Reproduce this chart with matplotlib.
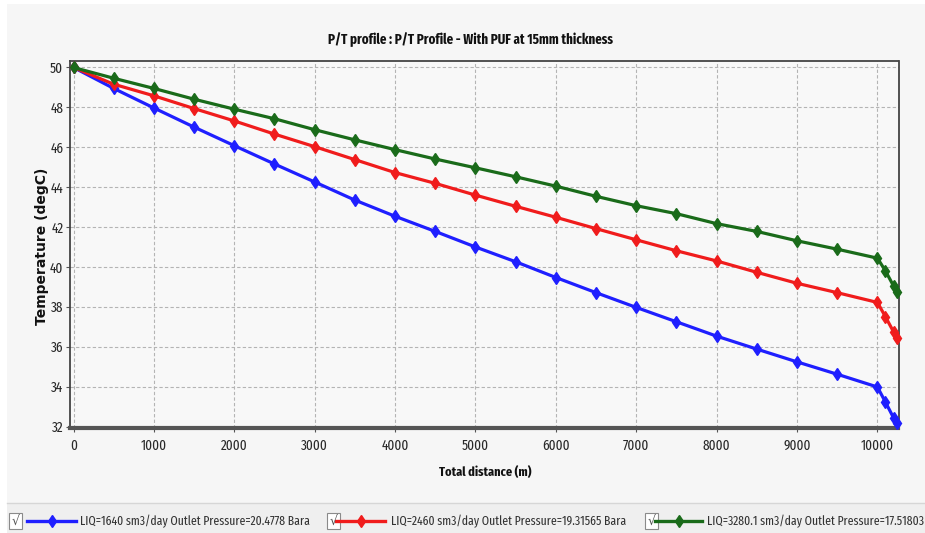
import matplotlib
matplotlib.use("Agg")
import matplotlib.pyplot as plt
from matplotlib import font_manager
from matplotlib.lines import Line2D
from matplotlib.patches import Rectangle

# ---- data ----
distance = [0, 500, 1000, 1500, 2000, 2500, 3000, 3500, 4000, 4500, 5000,
            5500, 6000, 6500, 7000, 7500, 8000, 8500, 9000, 9500, 10000,
            10100, 10200, 10240]
temp_liq1640 = [50.0, 48.95, 47.97, 47.01, 46.08, 45.16, 44.26, 43.35, 42.54, 41.78, 41.0,
                40.26, 39.47, 38.71, 37.97, 37.25, 36.53, 35.88, 35.24, 34.62, 33.98,
                33.22, 32.44, 32.17]
temp_liq2460 = [50.0, 49.16, 48.58, 47.94, 47.32, 46.66, 46.03, 45.38, 44.73, 44.19, 43.6,
                43.04, 42.49, 41.92, 41.36, 40.81, 40.30, 39.73, 39.18, 38.71, 38.22,
                37.50, 36.75, 36.46]
temp_liq3280 = [50.0, 49.46, 48.95, 48.41, 47.91, 47.43, 46.88, 46.37, 45.88, 45.41, 44.97,
                44.52, 44.05, 43.54, 43.07, 42.67, 42.17, 41.78, 41.31, 40.89, 40.44,
                39.80, 39.05, 38.76]
series_labels = ["LIQ=1640 sm3/day Outlet Pressure=20.4778 Bara",
                 "LIQ=2460 sm3/day Outlet Pressure=19.31565 Bara",
                 "LIQ=3280.1 sm3/day Outlet Pressure=17.51803 Bara"]
series_colors = ["#1f1fff", "#f01c1c", "#1a6b1a"]
x_ticks = [0, 1000, 2000, 3000, 4000, 5000, 6000, 7000, 8000, 9000, 10000]
y_ticks = [32, 34, 36, 38, 40, 42, 44, 46, 48, 50]
title = "P/T profile : P/T Profile - With PUF at 15mm thickness"
xlabel = "Total distance (m)"
ylabel = "Temperature (degC)"

# ---- font choice: a narrow humanist face, like the squeezed screenshot ----
names = {f.name for f in font_manager.fontManager.ttflist}
NARROW = "DejaVu Sans"
for cand in ["Fira Sans Extra Condensed", "Open Sans Condensed", "Noto Sans ExtraCondensed",
             "Barlow Condensed", "Asap Condensed", "Archivo Narrow"]:
    if cand in names:
        NARROW = cand
        break
plt.rcParams['font.family'] = [NARROW, 'DejaVu Sans']

W, H = 925, 533
fig = plt.figure(figsize=(W / 100, H / 100), dpi=100)
fig.patch.set_facecolor("white")
renderer = fig.canvas.get_renderer()


def fit_size(s, target_px, weight="normal", family=None):
    t = fig.text(0, 0, s, fontsize=10, fontweight=weight,
                 family=family if family else [NARROW, 'DejaVu Sans'])
    w = t.get_window_extent(renderer).width
    t.remove()
    return 10 * target_px / w


tick_size = fit_size("10000", 33)
legend_size = fit_size(series_labels[0], 229)
title_size = fit_size(title, 285, "bold")
xlabel_size = fit_size(xlabel, 92, "bold")

# window panel
fig.patches.append(Rectangle((7 / W, 0), 1 - 7 / W, 1 - 4 / H, transform=fig.transFigure,
                             facecolor="#f6f6f6", edgecolor="none", zorder=-10))
# legend strip
fig.patches.append(Rectangle((7 / W, 0), 1 - 7 / W, (H - 503) / H, transform=fig.transFigure,
                             facecolor="#efefef", edgecolor="none", zorder=-9))
fig.add_artist(Line2D([7 / W, 1], [1 - 503 / H] * 2, transform=fig.transFigure,
                      color="#d6d6d6", lw=1))

left, right, top, bottom = 69.5, 898.5, 60.5, 427.5
ax = fig.add_axes([left / W, 1 - bottom / H, (right - left) / W, (bottom - top) / H])
ax.set_facecolor("#f8f8f8")

for y, c, lab in zip([temp_liq1640, temp_liq2460, temp_liq3280], series_colors, series_labels):
    ax.plot(distance, y, color=c, lw=2.3, marker="d", ms=6.5, mec=c, mfc=c,
            label=lab, zorder=3, clip_on=False)

ax.set_xlim(-50, 10262)
ax.set_ylim(31.95, 50.35)
ax.set_xticks(x_ticks)
ax.set_yticks(y_ticks)
ax.tick_params(axis="both", labelsize=tick_size, colors="#555555", length=3, width=0.8)
ax.tick_params(axis="x", pad=5)
ax.tick_params(axis="y", pad=1.5)
for lbl in ax.get_xticklabels() + ax.get_yticklabels():
    lbl.set_color("#2a2a2a")
ax.grid(True, color="#b4b4b4", ls=(0, (3, 2)), lw=0.8)
for s in ["left", "top", "right"]:
    ax.spines[s].set_color("#444444")
    ax.spines[s].set_linewidth(1.3)
ax.spines["bottom"].set_color("#555555")
ax.spines["bottom"].set_linewidth(3)

fig.text(471 / W, 1 - 40 / H, title, ha="center", va="center", fontsize=title_size,
         fontweight="bold", color="#111111")
fig.text(485 / W, 1 - 472 / H, xlabel, ha="center", va="center", fontsize=xlabel_size,
         fontweight="bold", color="#111111")
fig.text(42 / W, 1 - 246 / H, ylabel, ha="center", va="center", rotation=90,
         fontsize=10, fontweight="bold", color="#111111", family="DejaVu Sans")

# legend row
ly = 1 - 521 / H
box_x = [9, 327, 645]
line_x = [(27, 76), (336, 385), (655, 702)]
text_x = [80, 391, 707]
for bx, (lx0, lx1), tx, c, lab in zip(box_x, line_x, text_x, series_colors, series_labels):
    fig.patches.append(Rectangle((bx / W, 1 - 529 / H), 13 / W, 16 / H, transform=fig.transFigure,
                                 facecolor="white", edgecolor="#8a8a8a", lw=0.8))
    fig.text((bx + 6.5) / W, ly, "\u221a", ha="center", va="center", fontsize=9,
             color="#555555", family="DejaVu Sans")
    fig.add_artist(Line2D([lx0 / W, lx1 / W], [ly, ly], transform=fig.transFigure,
                          color=c, lw=2.4))
    fig.add_artist(Line2D([(lx0 + lx1) / 2 / W], [ly], transform=fig.transFigure,
                          color=c, marker="d", ms=6.5, ls="none"))
    fig.text(tx / W, ly, lab, ha="left", va="center", fontsize=legend_size, color="#333333")

fig.savefig("out.png", dpi=100)
